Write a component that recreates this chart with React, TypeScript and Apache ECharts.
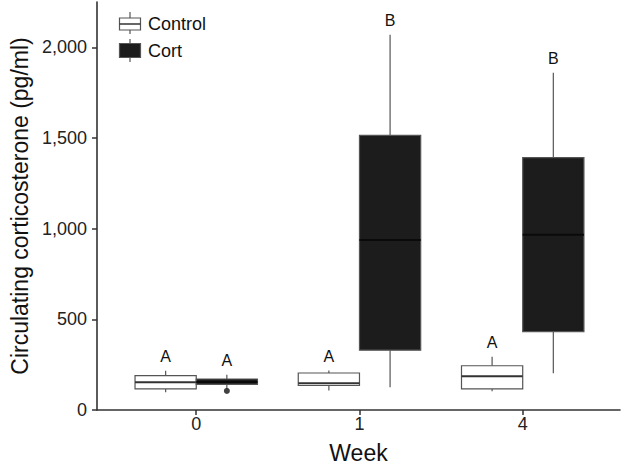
import React, { useEffect, useRef } from "react";
import * as echarts from "echarts";

const weeks = ["0", "1", "4"];
// [min whisker, Q1, median, Q3, max whisker]
const controlStats = [
  [98, 116, 153, 190, 217],
  [108, 135, 148, 204, 218],
  [104, 116, 186, 244, 293],
];
const cortStats = [
  [117, 141, 155, 171, 195],
  [126, 330, 938, 1514, 2069],
  [202, 432, 966, 1392, 1860],
];
const controlLetters = ["A", "A", "A"];
const cortLetters = ["A", "B", "B"];
const cortOutliers = [[0, 105]];
const yTicks = [0, 500, 1000, 1500, 2000];

const FONT = "'Liberation Sans', Arial, Helvetica, sans-serif";
const DODGE = 0.1875;
const BOXW = 0.375;

function makeBoxSeries(name: string, stats: number[][], letters: string[], offset: number, fill: string, medianColor: string) {
  const data = stats.map((s, i) => [i, ...s, i]);
  return {
    type: "custom",
    name,
    data,
    encode: { x: 0, y: [1, 2, 3, 4, 5] },
    clip: false,
    renderItem: (params: any, api: any) => {
      const xi = api.value(0) + offset;
      const mn = api.value(1), q1 = api.value(2), md = api.value(3), q3 = api.value(4), mx = api.value(5);
      const idx = api.value(6);
      const cx = api.coord([xi, 0])[0];
      const w = api.size([BOXW, 0])[0];
      const yMin = api.coord([xi, mn])[1];
      const yQ1 = api.coord([xi, q1])[1];
      const yMd = api.coord([xi, md])[1];
      const yQ3 = api.coord([xi, q3])[1];
      const yMax = api.coord([xi, mx])[1];
      const stroke = "#555";
      return {
        type: "group",
        children: [
          { type: "line", shape: { x1: cx, y1: yMax, x2: cx, y2: yQ3 }, style: { stroke, lineWidth: 1.2 } },
          { type: "line", shape: { x1: cx, y1: yQ1, x2: cx, y2: yMin }, style: { stroke, lineWidth: 1.2 } },
          { type: "rect", shape: { x: cx - w / 2, y: yQ3, width: w, height: Math.max(yQ1 - yQ3, 1) }, style: { fill, stroke, lineWidth: 1.2 } },
          { type: "line", shape: { x1: cx - w / 2, y1: yMd, x2: cx + w / 2, y2: yMd }, style: { stroke: medianColor, lineWidth: 2 } },
          {
            type: "text",
            x: cx,
            y: yMax - 6,
            style: { text: letters[idx], fill: "#111", font: `16px ${FONT}`, align: "center", verticalAlign: "bottom" },
          },
        ],
      };
    },
  };
}

export default function App() {
  const ref = useRef<HTMLDivElement>(null);
  useEffect(() => {
    if (!ref.current) return;
    const chart = echarts.init(ref.current, null, { renderer: "svg" });
    chart.setOption({
      animation: false,
      backgroundColor: "#fff",
      textStyle: { fontFamily: FONT },
      grid: { left: 93, right: 2, top: 2, bottom: 56 },
      xAxis: {
        type: "value",
        min: -0.608,
        max: 2.596,
        name: "Week",
        nameLocation: "middle",
        nameGap: 31,
        nameTextStyle: { fontSize: 23, color: "#111", fontFamily: FONT },
        axisLine: { show: true, onZero: false, lineStyle: { color: "#333", width: 1.6 } },
        axisTick: { show: true, length: 5, customValues: [0, 1, 2], lineStyle: { color: "#333", width: 1.5 } },
        axisLabel: {
          customValues: [0, 1, 2],
          formatter: (v: number) => weeks[Math.round(v)] ?? "",
          fontSize: 18,
          color: "#222",
          margin: 5,
          fontFamily: FONT,
        },
        splitLine: { show: false },
      },
      yAxis: {
        type: "value",
        min: 0,
        max: 2250,
        name: "Circulating corticosterone (pg/ml)",
        nameLocation: "middle",
        nameGap: 66,
        nameTextStyle: { fontSize: 23, color: "#111", fontFamily: FONT },
        axisLine: { show: true, onZero: false, lineStyle: { color: "#333", width: 1.6 } },
        axisTick: { show: true, length: 5, customValues: yTicks, lineStyle: { color: "#333", width: 1.5 } },
        axisLabel: {
          customValues: yTicks,
          formatter: (v: number) => v.toLocaleString("en-US"),
          fontSize: 18,
          color: "#222",
          margin: 10,
          fontFamily: FONT,
        },
        splitLine: { show: false },
      },
      series: [
        makeBoxSeries("Control", controlStats, controlLetters, -DODGE, "#ffffff", "#333"),
        makeBoxSeries("Cort", cortStats, cortLetters, DODGE, "#1c1c1c", "#0a0a0a"),
        {
          type: "scatter",
          name: "Cort outliers",
          data: cortOutliers.map((p) => [p[0] + DODGE, p[1]]),
          symbolSize: 6,
          itemStyle: { color: "#111" },
          z: 5,
        },
      ],
      graphic: [
        { type: "line", shape: { x1: 130, y1: 12, x2: 130, y2: 34 }, style: { stroke: "#555", lineWidth: 1.2 } },
        { type: "rect", shape: { x: 119.5, y: 18, width: 21, height: 12 }, style: { fill: "#fff", stroke: "#555", lineWidth: 1.2 } },
        { type: "line", shape: { x1: 119.5, y1: 24, x2: 140.5, y2: 24 }, style: { stroke: "#333", lineWidth: 1.5 } },
        { type: "text", x: 148, y: 24, style: { text: "Control", font: `18px ${FONT}`, fill: "#111", verticalAlign: "middle" } },
        { type: "line", shape: { x1: 130, y1: 39, x2: 130, y2: 62 }, style: { stroke: "#555", lineWidth: 1.2 } },
        { type: "rect", shape: { x: 119.5, y: 43.5, width: 21, height: 14 }, style: { fill: "#1c1c1c", stroke: "#555", lineWidth: 1.2 } },
        { type: "text", x: 148, y: 51, style: { text: "Cort", font: `18px ${FONT}`, fill: "#111", verticalAlign: "middle" } },
      ],
    });
    return () => chart.dispose();
  }, []);
  return <div ref={ref} style={{ width: 622, height: 469, position: "absolute", left: 0, top: 0 }} />;
}
